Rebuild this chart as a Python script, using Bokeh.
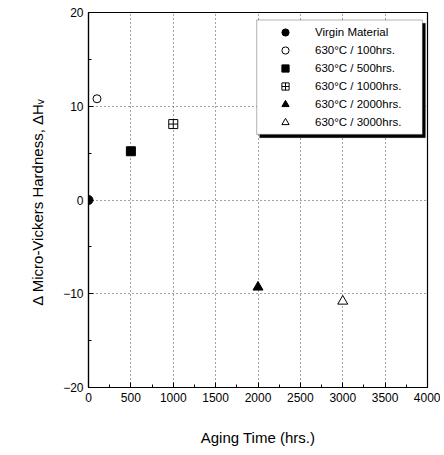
from bokeh.plotting import figure
from bokeh.models import (Legend, LegendItem, BoxAnnotation, FixedTicker, Range1d)
from bokeh.embed import file_html
from bokeh.resources import INLINE

# data
series_labels = ["Virgin Material", "630°C / 100hrs.", "630°C / 500hrs.",
                 "630°C / 1000hrs.", "630°C / 2000hrs.", "630°C / 3000hrs."]
aging_time = [0, 100, 500, 1000, 2000, 3000]
delta_hv = [0.0, 10.8, 5.2, 8.1, -9.3, -10.8]
x_ticks = [0, 500, 1000, 1500, 2000, 2500, 3000, 3500, 4000]
y_ticks = [-20, -10, 0, 10, 20]

FONT = "Liberation Sans"

p = figure(width=440, height=450, output_backend="svg", toolbar_location=None,
           x_range=Range1d(0, 4000), y_range=Range1d(-20, 20),
           min_border_left=88, min_border_right=13, min_border_top=12,
           min_border_bottom=63)
p.outline_line_color = "black"
p.outline_line_width = 1.2
p.background_fill_color = "white"

for ax in (p.xaxis[0], p.yaxis[0]):
    ax.major_tick_in = 5
    ax.major_tick_out = 0
    ax.minor_tick_in = 3
    ax.minor_tick_out = 0
    ax.axis_line_color = "black"
    ax.axis_line_width = 1.2
    ax.major_label_text_font = FONT
    ax.major_label_text_font_size = "12px"
    ax.major_label_text_color = "black"
    ax.axis_label_text_font = FONT
    ax.axis_label_text_font_size = "15px"
    ax.axis_label_text_font_style = "normal"
    ax.axis_label_text_color = "black"

p.xaxis[0].ticker = FixedTicker(ticks=x_ticks, minor_ticks=list(range(250, 4000, 500)))
p.yaxis[0].ticker = FixedTicker(ticks=y_ticks, minor_ticks=[-15, -5, 5, 15])
p.xaxis[0].major_label_standoff = 5
p.yaxis[0].major_label_standoff = 5
p.xaxis[0].axis_label = "Aging Time (hrs.)"
p.xaxis[0].axis_label_standoff = 24
p.yaxis[0].axis_label = "Δ Micro-Vickers Hardness,  ΔHᵥ"
p.yaxis[0].axis_label_standoff = 14

p.xgrid.ticker = FixedTicker(ticks=x_ticks[1:-1])
p.ygrid.ticker = FixedTicker(ticks=[-10, 0, 10])
for g in (p.xgrid[0], p.ygrid[0]):
    g.grid_line_color = "#444444"
    g.grid_line_dash = "1 3"
    g.grid_line_width = 1

# legend box with shadow (white fill hides grid)
p.add_layout(BoxAnnotation(left=2020, right=3975, top=18.85, bottom=6.65,
                           fill_color="black", fill_alpha=1, line_color="black"))
p.add_layout(BoxAnnotation(left=1985, right=3940, top=19.2, bottom=7.0,
                           fill_color="white", fill_alpha=1, line_color="black",
                           line_width=1))

styles = [
    dict(marker="circle", fill_color="black", line_color="black", size=9),
    dict(marker="circle", fill_color="white", line_color="black", size=8),
    dict(marker="square", fill_color="black", line_color="black", size=9),
    dict(marker="square_cross", fill_color="white", line_color="black", size=9),
    dict(marker="triangle", fill_color="black", line_color="black", size=10),
    dict(marker="triangle", fill_color="white", line_color="black", size=10),
]

items = []
for i, lab in enumerate(series_labels):
    r = p.scatter([aging_time[i]], [delta_hv[i]], line_width=1, **styles[i])
    items.append(LegendItem(label=lab, renderers=[r]))

legend = Legend(items=items, location=(168, 252), orientation="vertical",
                glyph_width=50, glyph_height=18, label_height=18, spacing=0,
                padding=4, margin=0, label_standoff=5,
                label_text_font=FONT, label_text_font_size="11.5px",
                label_text_color="black",
                border_line_alpha=0, background_fill_alpha=0)
p.add_layout(legend, "center")

open("out.html", "w").write(file_html(p, INLINE))
